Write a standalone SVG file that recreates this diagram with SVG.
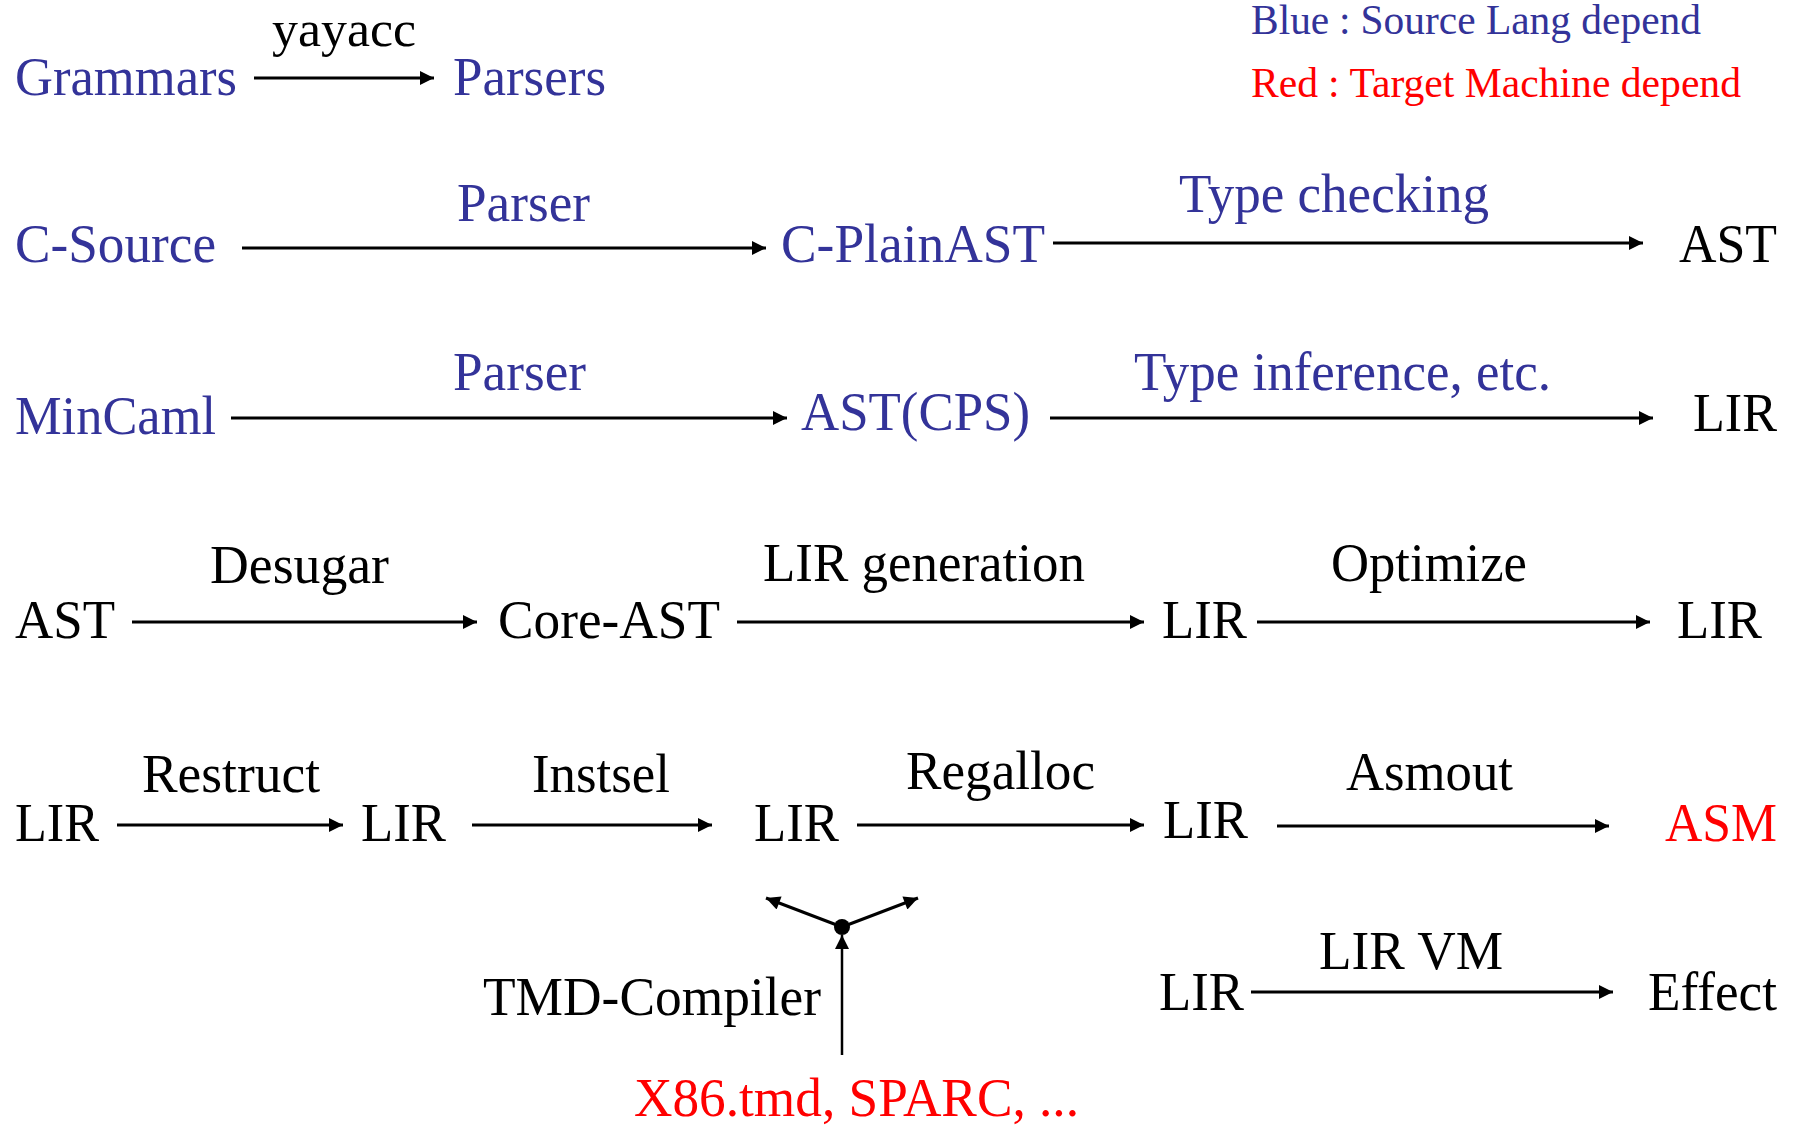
<svg xmlns="http://www.w3.org/2000/svg" width="1799" height="1128" viewBox="0 0 1799 1128">
<defs>
<style>
text{font-family:"Liberation Serif","Times New Roman",serif;font-size:54px;fill:#000}
.b{fill:#333399}
.r{fill:#ff0000}
.lg{font-size:42px}
.c line{stroke:#000;stroke-width:3}
</style>
<marker id="ah" viewBox="0 0 10 10" refX="10" refY="5" markerWidth="15" markerHeight="14" markerUnits="userSpaceOnUse" orient="auto">
<path d="M0,0 L10,5 L0,10 z" fill="#000"/>
</marker>
</defs>
<rect width="1799" height="1128" fill="#fff"/>
<g id="legend">
<text class="b lg" x="1251" y="34" textLength="450" lengthAdjust="spacingAndGlyphs">Blue<tspan dx="10">:</tspan><tspan dx="10">Source Lang depend</tspan></text>
<text class="r lg" x="1251" y="97" textLength="490" lengthAdjust="spacingAndGlyphs">Red<tspan dx="10">:</tspan><tspan dx="10">Target Machine depend</tspan></text>
</g>
<g id="nodes">
<g id="n-grammars"><text class="b" x="15" y="95" textLength="222" lengthAdjust="spacingAndGlyphs">Grammars</text></g>
<g id="n-parsers"><text class="b" x="453" y="95" textLength="153" lengthAdjust="spacingAndGlyphs">Parsers</text></g>
<g id="n-csource"><text class="b" x="15" y="262" textLength="201" lengthAdjust="spacingAndGlyphs">C-Source</text></g>
<g id="n-cplainast"><text class="b" x="781" y="262" textLength="264" lengthAdjust="spacingAndGlyphs">C-PlainAST</text></g>
<g id="n-ast1"><text x="1679" y="262" textLength="98" lengthAdjust="spacingAndGlyphs">AST</text></g>
<g id="n-mincaml"><text class="b" x="15" y="434" textLength="201" lengthAdjust="spacingAndGlyphs">MinCaml</text></g>
<g id="n-astcps"><text class="b" x="801" y="430" textLength="229" lengthAdjust="spacingAndGlyphs">AST(CPS)</text></g>
<g id="n-lir1"><text x="1693" y="431" textLength="84" lengthAdjust="spacingAndGlyphs">LIR</text></g>
<g id="n-ast2"><text x="15" y="638" textLength="100" lengthAdjust="spacingAndGlyphs">AST</text></g>
<g id="n-coreast"><text x="498" y="638" textLength="222" lengthAdjust="spacingAndGlyphs">Core-AST</text></g>
<g id="n-lir2"><text x="1162" y="638" textLength="85" lengthAdjust="spacingAndGlyphs">LIR</text></g>
<g id="n-lir3"><text x="1677" y="638" textLength="85" lengthAdjust="spacingAndGlyphs">LIR</text></g>
<g id="n-lir4"><text x="15" y="841" textLength="84" lengthAdjust="spacingAndGlyphs">LIR</text></g>
<g id="n-lir5"><text x="361" y="841" textLength="85" lengthAdjust="spacingAndGlyphs">LIR</text></g>
<g id="n-lir6"><text x="754" y="841" textLength="85" lengthAdjust="spacingAndGlyphs">LIR</text></g>
<g id="n-lir7"><text x="1163" y="838" textLength="85" lengthAdjust="spacingAndGlyphs">LIR</text></g>
<g id="n-asm"><text class="r" x="1665" y="841" textLength="112" lengthAdjust="spacingAndGlyphs">ASM</text></g>
<g id="n-tmd"><text x="483" y="1015" textLength="338" lengthAdjust="spacingAndGlyphs">TMD-Compiler</text></g>
<g id="n-x86"><text class="r" x="634" y="1116" textLength="445" lengthAdjust="spacingAndGlyphs">X86.tmd, SPARC, ...</text></g>
<g id="n-lir8"><text x="1159" y="1010" textLength="85" lengthAdjust="spacingAndGlyphs">LIR</text></g>
<g id="n-effect"><text x="1648" y="1010" textLength="129" lengthAdjust="spacingAndGlyphs">Effect</text></g>
<g id="n-dot"><circle cx="842" cy="927" r="8" fill="#000"/></g>
</g>
<g id="connectors" class="c">
<line x1="254" y1="78" x2="434" y2="78" marker-end="url(#ah)"/>
<text x="272" y="46" style="font-size:51px" textLength="144" lengthAdjust="spacingAndGlyphs">yayacc</text>
<line x1="242" y1="248" x2="766" y2="248" marker-end="url(#ah)"/>
<text class="b" x="457" y="221" textLength="133" lengthAdjust="spacingAndGlyphs">Parser</text>
<line x1="1053" y1="243" x2="1643" y2="243" marker-end="url(#ah)"/>
<text class="b" x="1179" y="212" textLength="310" lengthAdjust="spacingAndGlyphs">Type checking</text>
<line x1="231" y1="418" x2="787" y2="418" marker-end="url(#ah)"/>
<text class="b" x="453" y="390" textLength="133" lengthAdjust="spacingAndGlyphs">Parser</text>
<line x1="1050" y1="418" x2="1653" y2="418" marker-end="url(#ah)"/>
<text class="b" x="1134" y="390" textLength="417" lengthAdjust="spacingAndGlyphs">Type inference, etc.</text>
<line x1="132" y1="622" x2="477" y2="622" marker-end="url(#ah)"/>
<text x="210" y="583" textLength="179" lengthAdjust="spacingAndGlyphs">Desugar</text>
<line x1="737" y1="622" x2="1144" y2="622" marker-end="url(#ah)"/>
<text x="763" y="581" textLength="322" lengthAdjust="spacingAndGlyphs">LIR generation</text>
<line x1="1257" y1="622" x2="1650" y2="622" marker-end="url(#ah)"/>
<text x="1331" y="581" textLength="196" lengthAdjust="spacingAndGlyphs">Optimize</text>
<line x1="117" y1="825" x2="343" y2="825" marker-end="url(#ah)"/>
<text x="142" y="792" textLength="178" lengthAdjust="spacingAndGlyphs">Restruct</text>
<line x1="472" y1="825" x2="712" y2="825" marker-end="url(#ah)"/>
<text x="532" y="792" textLength="138" lengthAdjust="spacingAndGlyphs">Instsel</text>
<line x1="857" y1="825" x2="1144" y2="825" marker-end="url(#ah)"/>
<text x="906" y="789" textLength="189" lengthAdjust="spacingAndGlyphs">Regalloc</text>
<line x1="1277" y1="826" x2="1609" y2="826" marker-end="url(#ah)"/>
<text x="1346" y="790" textLength="167" lengthAdjust="spacingAndGlyphs">Asmout</text>
<line x1="1251" y1="992" x2="1613" y2="992" marker-end="url(#ah)"/>
<text x="1319" y="969" textLength="184" lengthAdjust="spacingAndGlyphs">LIR VM</text>
<line x1="842" y1="1055" x2="842" y2="935" style="stroke-width:2.5" marker-end="url(#ah)"/>
<line x1="842" y1="927" x2="766" y2="898" marker-end="url(#ah)"/>
<line x1="842" y1="927" x2="918" y2="898" marker-end="url(#ah)"/>
</g>
</svg>
